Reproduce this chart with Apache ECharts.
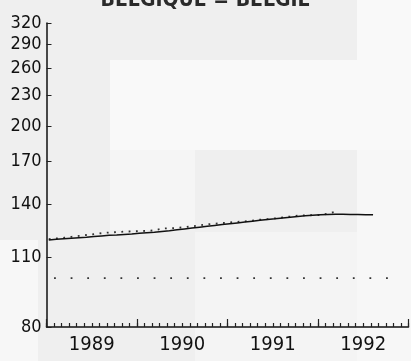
<!DOCTYPE html>
<html>
<head>
<meta charset="utf-8">
<script src="https://cdn.jsdelivr.net/npm/echarts@6/dist/echarts.min.js"></script>
<style>
  html, body { margin: 0; padding: 0; background: #efefef; }
  #chart { width: 411px; height: 361px; }
</style>
</head>
<body>
<div id="chart"></div>
<script>
// Index series for Belgium, monthly from January 1989 (month 0)
const titleText = 'BELGIQUE = BELGIË';
const startYear = 1989;
const yearLabels = ['1989', '1990', '1991', '1992'];
const yTicks = [80, 110, 140, 170, 200, 230, 260, 290, 320];

// Solid series: Jan 1989 – Aug 1992
const solidValues = [
  118.9, 119.3, 119.6, 119.9, 120.2, 120.5, 120.9, 121.2, 121.5, 121.7, 122.0, 122.3,
  122.7, 123.0, 123.3, 123.7, 124.1, 124.6, 125.1, 125.6, 126.1, 126.6, 127.1, 127.6,
  128.1, 128.6, 129.1, 129.6, 130.1, 130.6, 131.0, 131.5, 131.9, 132.4, 132.8, 133.2,
  133.5, 133.7, 133.8, 133.8, 133.7, 133.6, 133.5, 133.5
];

// Dotted series: Jan 1989 – Mar 1992
const dottedValues = [
  119.4, 119.8, 120.2, 120.7, 121.2, 121.7, 122.2, 122.7, 123.1, 123.3, 123.6, 123.7,
  123.9, 124.0, 124.3, 125.3, 125.5, 125.7, 126.1, 126.6, 127.1, 127.8, 128.1, 128.5,
  128.9, 129.2, 129.5, 130.0, 130.5, 130.8, 131.3, 131.9, 132.4, 132.9, 133.1, 133.2,
  133.3, 134.1, 135.3
];

// Reference level (base 100), Feb 1989 – Nov 1992
const baseLevel = 100;
const baseStart = 1;
const baseEnd = 46;

// observations sit just after the start of each month
const monthShift = 0.3;

const toPairs = vals => vals.map((v, i) => [i + monthShift, v]);
const basePairs = [];
for (let m = baseStart; m <= baseEnd; m++) basePairs.push([m, baseLevel]);

const font = '"Liberation Sans Narrow", "DejaVu Sans Condensed", "Liberation Sans", sans-serif';

const chart = echarts.init(document.getElementById('chart'), null, { renderer: 'canvas' });

chart.setOption({
  backgroundColor: '#efefef',
  animation: false,
  title: {
    text: titleText,
    left: 'center',
    top: -15,
    textStyle: { fontFamily: font, fontSize: 21, fontWeight: 'bold', color: '#2a2a2a' }
  },
  graphic: [
    { type: 'rect', z: -10, silent: true, shape: { x: 357, y: 0, width: 54, height: 60 }, style: { fill: '#f9f9f9' } },
    { type: 'rect', z: -10, silent: true, shape: { x: 110, y: 60, width: 301, height: 90 }, style: { fill: '#f9f9f9' } },
    { type: 'rect', z: -10, silent: true, shape: { x: 110, y: 150, width: 85, height: 80 }, style: { fill: '#f5f5f5' } },
    { type: 'rect', z: -10, silent: true, shape: { x: 357, y: 150, width: 54, height: 211 }, style: { fill: '#f7f7f7' } },
    { type: 'rect', z: -10, silent: true, shape: { x: 0, y: 240, width: 38, height: 121 }, style: { fill: '#f7f7f7' } },
    { type: 'rect', z: -10, silent: true, shape: { x: 195, y: 232, width: 162, height: 129 }, style: { fill: '#f4f4f4' } }
  ],
  grid: { left: 46.5, right: 2.5, top: 23, bottom: 34, containLabel: false },
  xAxis: [
    {
      type: 'value',
      min: 0,
      max: 48,
      interval: 1,
      axisLine: { show: true, lineStyle: { color: '#111', width: 1.5 } },
      axisTick: { show: true, inside: true, length: 4, lineStyle: { color: '#222', width: 1.2 } },
      splitLine: { show: false },
      axisLabel: {
        customValues: [6, 18, 30, 42],
        formatter: v => yearLabels[Math.floor(v / 12)] || String(startYear + Math.floor(v / 12)),
        margin: 8,
        fontFamily: font,
        fontSize: 20,
        color: '#111'
      }
    },
    {
      type: 'value',
      position: 'bottom',
      min: 0,
      max: 48,
      interval: 12,
      axisLine: { show: false },
      axisTick: { show: true, inside: true, length: 8, lineStyle: { color: '#222', width: 1.2 } },
      axisLabel: { show: false },
      splitLine: { show: false }
    }
  ],
  yAxis: {
    type: 'log',
    logBase: 10,
    min: 80,
    max: 320,
    axisLine: { show: true, lineStyle: { color: '#111', width: 1.5 } },
    axisTick: { show: true, inside: true, length: 5, customValues: yTicks, lineStyle: { color: '#222' } },
    splitLine: { show: false },
    minorTick: { show: false },
    axisLabel: {
      customValues: yTicks,
      formatter: v => String(Math.round(v)),
      margin: 5,
      fontFamily: font,
      fontSize: 18,
      color: '#111'
    }
  },
  series: [
    {
      name: 'base',
      type: 'line',
      data: basePairs,
      symbol: 'none',
      lineStyle: { color: '#333', width: 1.8, type: [1.8, 14.8] }
    },
    {
      name: 'dotted',
      type: 'line',
      data: toPairs(dottedValues),
      symbol: 'none',
      lineStyle: { color: '#333', width: 1.8, type: [1.8, 5.5] }
    },
    {
      name: 'solid',
      type: 'line',
      data: toPairs(solidValues),
      symbol: 'none',
      lineStyle: { color: '#111', width: 1.5 }
    }
  ]
});
</script>
</body>
</html>
